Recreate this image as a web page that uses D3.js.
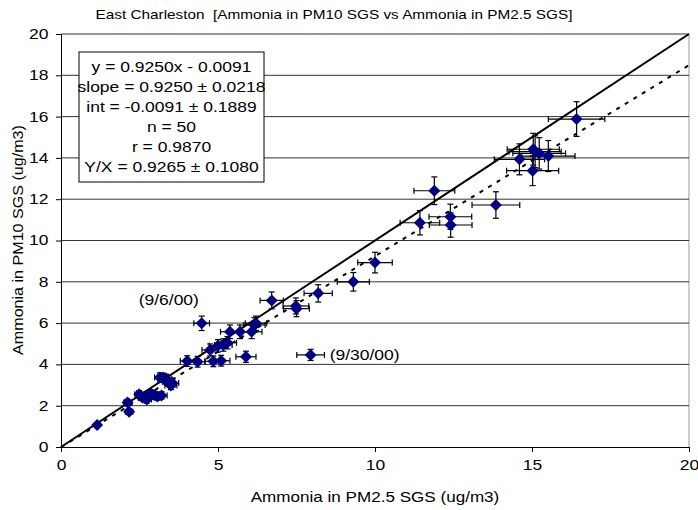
<!DOCTYPE html>
<html>
<head>
<meta charset="utf-8">
<script src="https://cdn.jsdelivr.net/npm/d3@7"></script>
<style>
  body { margin: 0; background: #fff; }
  text { font-family: "Liberation Sans", Arial, sans-serif; white-space: pre; }
</style>
</head>
<body>
<div id="chart"></div>
<script>
// chart size and plot area
const width = 698;
const height = 510;
const margin = { top: 34, right: 9, bottom: 63, left: 61 };
const stretch = 1.25; // text in the original is drawn a bit wide

// Ammonia in PM2.5 SGS (x) and PM10 SGS (y), ug/m3
const pm25 = [1.15, 2.12, 2.17, 2.49, 2.60, 2.73, 2.85, 2.96, 3.07, 3.20,
    3.15, 3.27, 3.35, 3.42, 3.50, 3.55, 4.02, 4.35, 4.48, 4.75,
    4.85, 5.00, 5.10, 5.17, 5.30, 5.38, 5.70, 5.89, 6.07, 6.16,
    6.21, 6.71, 7.48, 7.50, 7.95, 8.19, 9.31, 10.00, 11.43, 11.89,
    12.41, 12.40, 13.85, 14.60, 15.02, 15.04, 15.10, 15.23, 15.52, 16.42];
const pm10 = [1.06, 2.15, 1.71, 2.55, 2.40, 2.30, 2.60, 2.52, 2.44, 2.50,
    3.37, 3.35, 3.30, 3.16, 2.98, 3.10, 4.16, 4.13, 5.99, 4.70,
    4.15, 4.90, 4.18, 4.94, 5.05, 5.58, 5.58, 4.37, 5.58, 5.91,
    5.99, 7.10, 6.83, 6.70, 4.46, 7.44, 8.00, 8.93, 10.86, 12.41,
    10.75, 11.15, 11.72, 13.93, 13.38, 14.42, 14.30, 14.22, 14.09, 15.88];
const pm25Err = [0.06, 0.12, 0.12, 0.14, 0.14, 0.15, 0.16, 0.16, 0.17, 0.18,
    0.17, 0.18, 0.18, 0.19, 0.19, 0.20, 0.22, 0.24, 0.25, 0.26,
    0.27, 0.28, 0.28, 0.28, 0.29, 0.30, 0.31, 0.32, 0.33, 0.34,
    0.34, 0.37, 0.41, 0.41, 0.44, 0.45, 0.51, 0.55, 0.63, 0.65,
    0.68, 0.68, 0.76, 0.80, 0.83, 0.83, 0.83, 0.84, 0.85, 0.90];
const pm10Err = [0.10, 0.16, 0.14, 0.18, 0.17, 0.17, 0.18, 0.18, 0.17, 0.18,
    0.22, 0.22, 0.22, 0.21, 0.20, 0.21, 0.26, 0.26, 0.35, 0.29,
    0.26, 0.30, 0.26, 0.30, 0.30, 0.33, 0.33, 0.27, 0.33, 0.35,
    0.35, 0.41, 0.39, 0.39, 0.27, 0.42, 0.45, 0.50, 0.59, 0.67,
    0.59, 0.61, 0.64, 0.75, 0.72, 0.77, 0.77, 0.76, 0.75, 0.84];

// fit line and stats text
const slope = 0.9250;
const intercept = -0.0091;
const statsLines = [
    "y = 0.9250x - 0.0091",
    "slope = 0.9250 \u00b1 0.0218",
    "int = -0.0091 \u00b1 0.1889",
    "n = 50",
    "r = 0.9870",
    "Y/X = 0.9265 \u00b1 0.1080"
];
const notes = [
    { label: "(9/6/00)", x: 4.48, y: 5.99, dx: -63, dy: -18 },
    { label: "(9/30/00)", x: 7.95, y: 4.46, dx: 19, dy: 5 }
];
const xTicks = [0, 5, 10, 15, 20];
const yTicks = [0, 2, 4, 6, 8, 10, 12, 14, 16, 18, 20];

const data = pm25.map((d, i) => ({ x: d, y: pm10[i], xe: pm25Err[i], ye: pm10Err[i] }));

const svg = d3.select("#chart").append("svg")
    .attr("width", width)
    .attr("height", height);

const x = d3.scaleLinear().domain([0, 20]).range([margin.left, width - margin.right]);
const y = d3.scaleLinear().domain([0, 20]).range([height - margin.bottom, margin.top]);

// helper: wide text at a point
function wideText(parent, tx, ty, str, anchor, size, sx, rotate) {
    return parent.append("text")
        .attr("transform", "translate(" + tx + "," + ty + ")" + (rotate ? " rotate(" + rotate + ")" : "") + " scale(" + sx + ",1)")
        .attr("text-anchor", anchor)
        .attr("font-size", size)
        .text(str);
}

// title
wideText(svg, 334, 19, "East Charleston  [Ammonia in PM10 SGS vs Ammonia in PM2.5 SGS]", "middle", 13, 1.18);

// plot border (right side grey)
svg.append("line")
    .attr("x1", x(20)).attr("x2", x(20))
    .attr("y1", y(0)).attr("y2", y(20))
    .attr("stroke", "#999");

// horizontal gridlines
svg.append("g")
    .selectAll("line")
    .data(yTicks.filter(d => d > 0))
    .join("line")
    .attr("x1", x(0)).attr("x2", x(20))
    .attr("y1", d => y(d)).attr("y2", d => y(d))
    .attr("stroke", "#333")
    .attr("stroke-width", 1);

// axes
const xAxis = svg.append("g")
    .attr("transform", "translate(0," + y(0) + ")")
    .call(d3.axisBottom(x).tickValues(xTicks).tickSize(5).tickPadding(8));
const yAxis = svg.append("g")
    .attr("transform", "translate(" + x(0) + ",0)")
    .call(d3.axisLeft(y).tickValues(yTicks).tickSize(5).tickPadding(5));
[xAxis, yAxis].forEach(a => {
    a.selectAll("text")
        .attr("font-size", 14)
        .attr("font-family", "Liberation Sans, Arial, sans-serif")
        .attr("fill", "#000")
        .attr("transform", "scale(" + stretch + ",1)");
    a.selectAll("line, path").attr("stroke", "#000");
});

// axis titles
wideText(svg, 375, 502, "Ammonia in PM2.5 SGS (ug/m3)", "middle", 14, 1.22);
wideText(svg, 23, 240, "Ammonia in PM10 SGS (ug/m3)", "middle", 14, 1.15, -90);

const plot = svg.append("g");

// 1:1 line
plot.append("line")
    .attr("x1", x(0)).attr("y1", y(0))
    .attr("x2", x(20)).attr("y2", y(20))
    .attr("stroke", "#000")
    .attr("stroke-width", 2);

// regression line
plot.append("line")
    .attr("x1", x(0)).attr("y1", y(intercept))
    .attr("x2", x(20)).attr("y2", y(slope * 20 + intercept))
    .attr("stroke", "#000")
    .attr("stroke-width", 2)
    .attr("stroke-dasharray", "4,6");

// error bars
const cap = 3;
const err = plot.append("g").attr("stroke", "#000").attr("stroke-width", 1.2);
data.forEach(d => {
    const cx = x(d.x), cy = y(d.y);
    const x0 = x(d.x - d.xe), x1 = x(d.x + d.xe);
    const y0 = y(d.y - d.ye), y1 = y(d.y + d.ye);
    err.append("line").attr("x1", x0).attr("x2", x1).attr("y1", cy).attr("y2", cy);
    err.append("line").attr("x1", x0).attr("x2", x0).attr("y1", cy - cap).attr("y2", cy + cap);
    err.append("line").attr("x1", x1).attr("x2", x1).attr("y1", cy - cap).attr("y2", cy + cap);
    err.append("line").attr("x1", cx).attr("x2", cx).attr("y1", y0).attr("y2", y1);
    err.append("line").attr("x1", cx - cap).attr("x2", cx + cap).attr("y1", y0).attr("y2", y0);
    err.append("line").attr("x1", cx - cap).attr("x2", cx + cap).attr("y1", y1).attr("y2", y1);
});

// diamond markers
plot.selectAll(".pt")
    .data(data)
    .join("path")
    .attr("class", "pt")
    .attr("d", "M0,-6L6,0L0,6L-6,0Z")
    .attr("transform", d => "translate(" + x(d.x) + "," + y(d.y) + ")")
    .attr("fill", "#000080");

// point annotations
notes.forEach(d => {
    wideText(svg, x(d.x) + d.dx, y(d.y) + d.dy, d.label, "start", 14, stretch);
});

// stats box
const box = svg.append("g").attr("transform", "translate(79,52)");
box.append("rect")
    .attr("width", 185)
    .attr("height", 130)
    .attr("fill", "#fff")
    .attr("stroke", "#000");
statsLines.forEach((d, i) => {
    wideText(box, 92.5, 20 + i * 20, d, "middle", 14, stretch);
});
</script>
</body>
</html>
